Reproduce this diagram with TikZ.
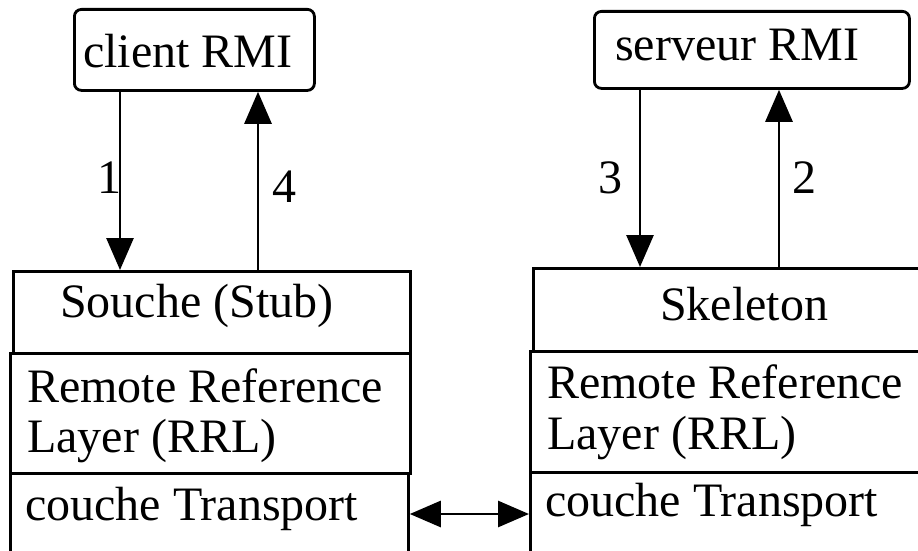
\documentclass[tikz,border=0pt]{standalone}
\usepackage{fontspec}
\setmainfont{Liberation Serif}
\usetikzlibrary{arrows.meta}
\begin{document}
\begin{tikzpicture}[x=1pt,y=-1pt,
  box/.style={draw, line width=2.8pt, rectangle, inner sep=0pt, anchor=north west},
  txt/.style={anchor=base west, inner sep=0pt, font=\fontsize{48}{50}\selectfont},
  arr/.style={-{Triangle[length=32pt,width=27pt]}, line width=2.8pt},
  darr/.style={{Triangle[length=31pt,width=26pt]}-{Triangle[length=31pt,width=26pt]}, line width=2.8pt}]
\useasboundingbox (0,0) rectangle (918,551);
\clip (0,0) rectangle (918,551);
% top boxes
\node[box, rounded corners=7pt, minimum width=240pt, minimum height=81pt] (client) at (73,8) {};
\node[box, rounded corners=7pt, minimum width=315pt, minimum height=77pt] (server) at (593,10) {};
% left stack
\node[box, minimum width=397pt, minimum height=82pt] (stub) at (12,270) {};
\node[box, minimum width=400pt, minimum height=120pt] (lrrl) at (9,352) {};
\node[box, minimum width=398pt, minimum height=110pt] (ltrans) at (9,472) {};
% right stack
\node[box, minimum width=420pt, minimum height=83pt] (skel) at (532,267) {};
\node[box, minimum width=423pt, minimum height=121pt] (rrrl) at (529,350) {};
\node[box, minimum width=423pt, minimum height=110pt] (rtrans) at (529,471) {};
% texts
\node[txt] (tclient) at (83,67.5) {client RMI};
\node[txt] (tserver) at (615,60) {serveur RMI};
\node[txt] (tstub) at (60,317) {Souche (Stub)};
\node[txt] (tlr1) at (27,402) {Remote Reference};
\node[txt] (tlr2) at (27,452) {Layer (RRL)};
\node[txt] (tlt) at (25,520) {couche Transport};
\node[txt] (tskel) at (660,320) {Skeleton};
\node[txt] (trr1) at (547,398) {Remote Reference};
\node[txt] (trr2) at (547,449) {Layer (RRL)};
\node[txt] (trt) at (545,516) {couche Transport};
% arrows
\draw[arr] (client.south -| 120,0) -- (stub.north -| 120,0);
\draw[arr] (stub.north -| 258,0) -- (client.south -| 258,0);
\draw[arr] (server.south -| 640,0) -- (skel.north -| 640,0);
\draw[arr] (skel.north -| 779,0) -- (server.south -| 779,0);
\draw[darr] (ltrans.east |- 0,514) -- (rtrans.west |- 0,514);
% arrow labels
\node[txt] (l1) at (97,193) {1};
\node[txt] (l4) at (272,202) {4};
\node[txt] (l3) at (598,193) {3};
\node[txt] (l2) at (792,193) {2};
\end{tikzpicture}
\end{document}
